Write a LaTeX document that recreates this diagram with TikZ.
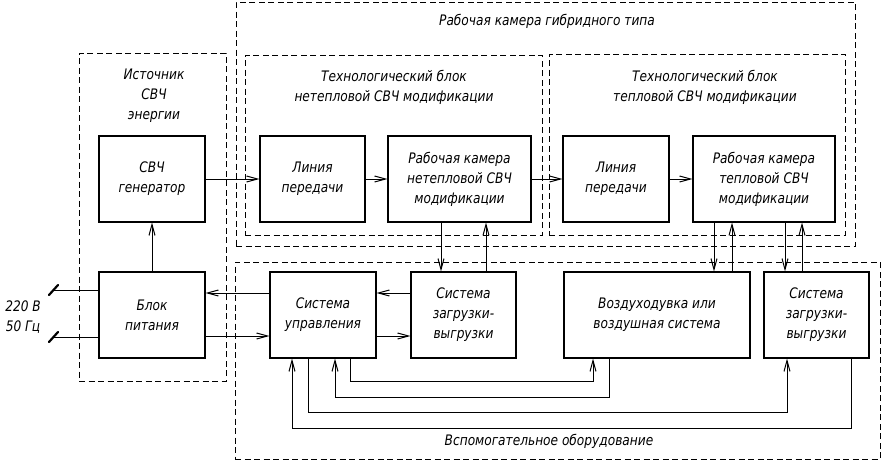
\documentclass[tikz,border=0pt]{standalone}
\usepackage{fontspec}
\setmainfont{DejaVu Sans}[FakeStretch=0.84]
\usetikzlibrary{arrows.meta}
\tikzset{
  blk/.style={draw, line width=1.1pt, inner sep=0pt, align=center, font=\gtext},
  dbox/.style={draw, dash pattern=on 6pt off 3.5pt, line width=0.7pt, inner sep=0pt},
  lbl/.style={align=center, font=\gtext, inner sep=0pt},
  con/.style={line width=1pt},
  arr/.style={con, -{Straight Barb[length=11pt,width=6pt,line width=1pt]}},
  term/.style={line width=2.2pt, line cap=round}
}
\newcommand{\gtext}{\itshape\fontsize{14.5}{20}\selectfont}
\begin{document}
\begin{tikzpicture}[x=1pt,y=-1pt]
\useasboundingbox (0,0) rectangle (883,461);
% dashed groups
\node[dbox, minimum width=147pt, minimum height=328pt] (src) at (152.5,217) {};
\node[dbox, minimum width=619pt, minimum height=244pt] (hyb) at (545.5,124) {};
\node[dbox, minimum width=297pt, minimum height=180pt] (tb1) at (393.5,145) {};
\node[dbox, minimum width=296pt, minimum height=181pt] (tb2) at (697,144.5) {};
\node[dbox, line width=0.9pt, minimum width=645pt, minimum height=197pt] (aux) at (557.5,360.5) {};
% group labels
\node[lbl] (lhyb) at (547,21) {Рабочая камера гибридного типа};
\node[lbl] (ltb1) at (394,87) {Технологический блок\\нетепловой СВЧ модификации};
\node[lbl] (ltb2) at (705,87) {Технологический блок\\тепловой СВЧ модификации};
\node[lbl] (lsrc) at (154,96) {Источник\\СВЧ\\энергии};
\node[lbl] (laux) at (549,441) {Вспомогательное оборудование};
\node[lbl] (lnet) at (23,317) {220 В\\50 Гц};
% blocks
\node[blk, minimum width=106pt, minimum height=86pt] (gen) at (152,179) {СВЧ\\генератор};
\node[blk, minimum width=106pt, minimum height=86pt] (psu) at (152,315) {Блок\\питания};
\node[blk, minimum width=105pt, minimum height=86pt] (lin1) at (312.5,179) {Линия\\передачи};
\node[blk, minimum width=143pt, minimum height=86pt] (cam1) at (459.5,179) {Рабочая камера\\нетепловой СВЧ\\модификации};
\node[blk, minimum width=106pt, minimum height=86pt] (lin2) at (616,179) {Линия\\передачи};
\node[blk, minimum width=142pt, minimum height=86pt] (cam2) at (764,179) {Рабочая камера\\тепловой СВЧ\\модификации};
\node[blk, minimum width=106pt, minimum height=86pt] (ctl) at (323,315) {Система\\управления};
\node[blk, minimum width=105pt, minimum height=86pt] (ld1) at (463.5,315) {Система\\загрузки-\\выгрузки};
\node[blk, minimum width=186pt, minimum height=86pt] (air) at (657,315) {Воздуходувка или\\воздушная система};
\node[blk, minimum width=105pt, minimum height=86pt] (ld2) at (816.5,315) {Система\\загрузки-\\выгрузки};
% main chain
\draw[arr] (gen) -- (lin1);
\draw[arr] (lin1) -- (cam1);
\draw[arr] (cam1) -- (lin2);
\draw[arr] (lin2) -- (cam2);
\draw[arr] (psu) -- (gen);
% mains terminals
\coordinate (t1) at (53,290);
\coordinate (t2) at (53,337);
\draw[con] (psu.west |- t1) -- (t1);
\draw[con] (psu.west |- t2) -- (t2);
\draw[term] (49,295) -- (58,285);
\draw[term] (49,342) -- (58,332);
% horizontal links
\coordinate (hu) at (0,293);
\coordinate (hd) at (0,336);
\draw[arr] (ctl.west |- hu) -- (psu.east |- hu);
\draw[arr] (psu.east |- hd) -- (ctl.west |- hd);
\draw[arr] (ld1.west |- hu) -- (ctl.east |- hu);
\draw[arr] (ctl.east |- hd) -- (ld1.west |- hd);
% vertical links
\coordinate (v1) at (441,0);
\coordinate (v2) at (486,0);
\coordinate (v3) at (714,0);
\coordinate (v4) at (732,0);
\coordinate (v5) at (785,0);
\coordinate (v6) at (802,0);
\draw[arr] (v1 |- cam1.south) -- (v1 |- ld1.north);
\draw[arr] (v2 |- ld1.north) -- (v2 |- cam1.south);
\draw[arr] (v3 |- cam2.south) -- (v3 |- air.north);
\draw[arr] (v4 |- air.north) -- (v4 |- cam2.south);
\draw[arr] (v5 |- cam2.south) -- (v5 |- ld2.north);
\draw[arr] (v6 |- ld2.north) -- (v6 |- cam2.south);
% bottom loops
\coordinate (a0) at (350,0);
\coordinate (a1) at (593,381);
\coordinate (b0) at (609,0);
\coordinate (b1) at (335,397);
\coordinate (c0) at (308,0);
\coordinate (c1) at (787,412);
\coordinate (d0) at (851,0);
\coordinate (d1) at (292,428);
\draw[arr] (a0 |- ctl.south) |- (a1) -- (a1 |- air.south);
\draw[arr] (b0 |- air.south) |- (b1) -- (b1 |- ctl.south);
\draw[arr] (c0 |- ctl.south) |- (c1) -- (c1 |- ld2.south);
\draw[arr] (d0 |- ld2.south) |- (d1) -- (d1 |- ctl.south);
\end{tikzpicture}
\end{document}
